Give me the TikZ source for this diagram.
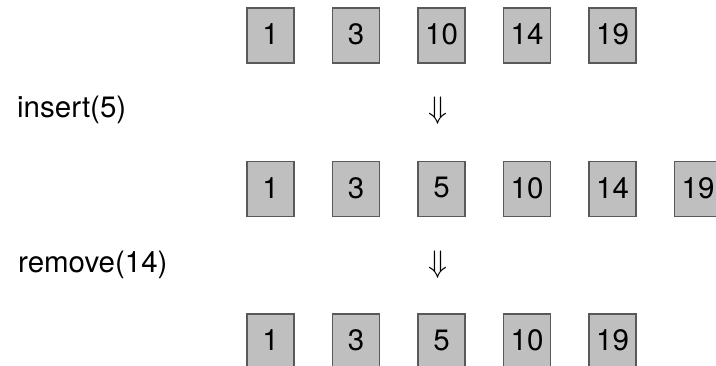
\documentclass[tikz,border=0pt]{standalone}
\usepackage{graphicx}
\usepackage{fontspec}
\setmainfont{TeX Gyre Heros}
\begin{document}
\begin{tikzpicture}[x=1pt,y=-1pt,
  cell/.style={draw=black!65,fill=black!25,line width=1.2pt,minimum width=47pt,minimum height=55pt,inner sep=0pt,text depth=0.25em,font=\fontsize{29.5}{35}\selectfont},
  oplabel/.style={anchor=base west,inner sep=0pt,font=\fontsize{29.5}{35}\selectfont},
  downarr/.style={inner sep=0pt,font=\fontsize{24.88}{30}\selectfont}]
\useasboundingbox (0,0) rectangle (716,365);
\clip (0,0) rectangle (716,365);
% row 1
\node[cell] (a1) at (270.5,35.5) {1};
\node[cell] (a2) at (356,35.5) {3};
\node[cell] (a3) at (441.5,35.5) {10};
\node[cell] (a4) at (527,35.5) {14};
\node[cell] (a5) at (612.5,35.5) {19};
% op 1
\node[oplabel] (op1) at (17,117) {insert(5)};
\node[downarr] (d1) at (438,111) {\scalebox{1.25}{$\Downarrow$}};
% row 2
\node[cell] (b1) at (270.5,189) {1};
\node[cell] (b2) at (356,189) {3};
\node[cell] (b3) at (441.5,189) {5};
\node[cell] (b4) at (527,189) {10};
\node[cell] (b5) at (612.5,189) {14};
\node[cell] (b6) at (698,189) {19};
% op 2
\node[oplabel] (op2) at (18,272) {remove(14)};
\node[downarr] (d2) at (438,265) {\scalebox{1.25}{$\Downarrow$}};
% row 3
\node[cell] (c1) at (270.5,341.5) {1};
\node[cell] (c2) at (356,341.5) {3};
\node[cell] (c3) at (441.5,341.5) {5};
\node[cell] (c4) at (527,341.5) {10};
\node[cell] (c5) at (612.5,341.5) {19};
\end{tikzpicture}
\end{document}
